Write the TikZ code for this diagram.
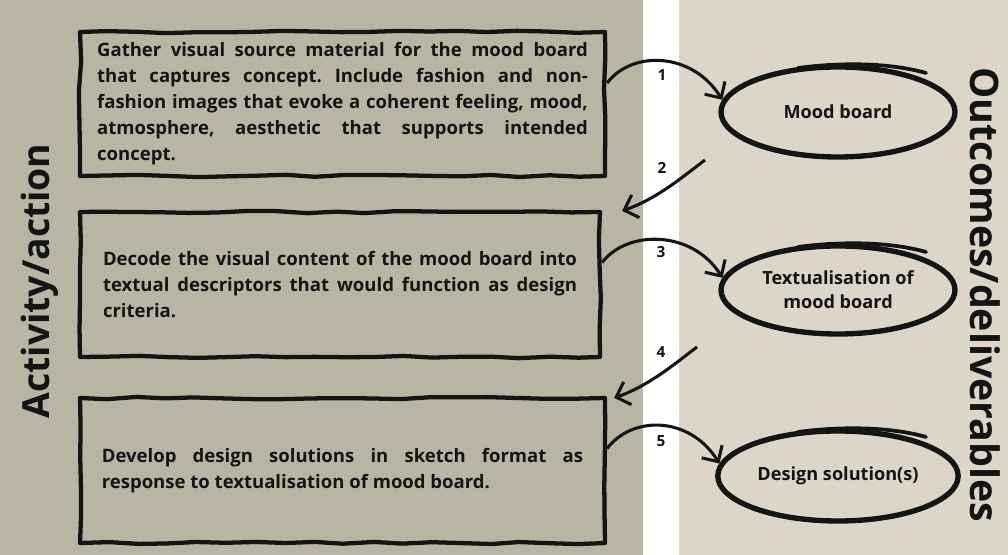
\documentclass[tikz,border=0pt]{standalone}
\usepackage{fontspec}
\setmainfont{Open Sans}
\usepackage{xcolor}
\usetikzlibrary{arrows.meta,decorations.pathmorphing,shapes.geometric,calc}
\frenchspacing

\definecolor{actbg}{HTML}{B9B4A4}
\definecolor{outbg}{HTML}{DDD5C8}
\definecolor{ink}{HTML}{141414}

\tikzset{
  actbox/.style={draw=ink, line width=3.2pt, line join=round, decorate, decoration={random steps,segment length=22pt,amplitude=0.9pt}, align=justify, font=\bfseries\fontsize{13.9}{19.5}\selectfont, text=ink, inner sep=0pt},
  outell/.style={ellipse, draw=ink, line width=4pt, fill=outbg, minimum width=175.5pt, align=center, font=\bfseries\fontsize{13.6}{18}\selectfont, text=ink},
  overstroke/.style={ink, line width=2.8pt, line cap=round},
  flow/.style={ink, line width=2.3pt, -{Straight Barb[length=9pt,width=18pt]}},
  steplabel/.style={font=\bfseries\fontsize{11.5}{13}\selectfont, text=ink, inner sep=0.75pt},
  sidelabel/.style={font=\bfseries\fontsize{28}{30}\selectfont, text=ink, inner sep=0pt}
}

\begin{document}
\begin{tikzpicture}[x=0.75pt,y=0.75pt,yscale=-1,xscale=1]
    \pgfmathsetseed{12}
    \useasboundingbox (0,0) rectangle (1008,555);

    %Shape: Rectangle [panels]
    \fill [white] (0,0) rectangle (1008,555);
    \fill [actbg] (0,0) rectangle (643,555);
    \fill [outbg] (679,0) rectangle (1008,555);

    % Text Node
    \node [sidelabel, rotate=90] (acthead) at (40,281) {Activity/action};
    % Text Node
    \node [sidelabel, rotate=-90, font=\bfseries\fontsize{29.5}{31}\selectfont] (outhead) at (985,295) {Outcomes/deliverables};

    %Shape: Rectangle [activities]
    \node [actbox, minimum width=393.75pt, minimum height=108pt, text width=368pt] (gather) at (342.5,104) {Gather visual source material for the mood board\linebreak that captures concept. Include fashion and non-\linebreak fashion images that evoke a coherent feeling, mood,\linebreak atmosphere, aesthetic that supports intended\linebreak concept.};
    \node [actbox, minimum width=390pt, minimum height=108.75pt, text width=355.5pt] (decode) at (340,284.5) {Decode the visual content of the mood board into\linebreak textual descriptors that would function as design\linebreak criteria.};
    \node [actbox, minimum width=393.75pt, minimum height=108.75pt, text width=361pt] (develop) at (342.5,470.5) {Develop design solutions in sketch format as\linebreak response to textualisation of mood board.};

    %Shape: Ellipse [outcomes]
    \node [outell, minimum height=67.5pt] (moodboard) at (838,112) {Mood board};
    \node [outell, minimum height=66pt] (textual) at (838,290) {Textualisation of\\mood board};
    \node [outell, minimum height=67.5pt] (design) at (838,476) {Design solution(s)};

    %Curve Lines [sketch strokes]
    \draw [overstroke] ($(moodboard.center)+(-40,-44)$) .. controls +(45,-6) and +(-35,-10) .. ($(moodboard.center)+(88,-39)$);
    \draw [overstroke] ($(textual.center)+(-40,-43)$) .. controls +(45,-6) and +(-35,-10) .. ($(textual.center)+(88,-38)$);
    \draw [overstroke] ($(design.center)+(-40,-44)$) .. controls +(45,-6) and +(-35,-10) .. ($(design.center)+(88,-39)$);

    %Curve Lines [steps]
    \draw [flow] ($(gather.east)+(0,-21)$) .. controls +(25,-33) and +(-30,-48) .. (moodboard.174);
    \draw [flow] ($(moodboard.center)+(-133,48)$) .. controls +(-20,15) and +(35,-12) .. ($(decode.north east)+(20,1)$);
    \draw [flow] ($(decode.east)+(0,-22)$) .. controls +(25,-33) and +(-30,-48) .. (textual.174);
    \draw [flow] ($(textual.center)+(-141,57)$) .. controls +(-20,15) and +(35,-12) .. ($(develop.north east)+(7,2)$);
    \draw [flow] ($(develop.east)+(0,-22)$) .. controls +(25,-33) and +(-30,-48) .. (design.174);

    % Text Node
    \node [steplabel] (s1) at (662,75) {1};
    % Text Node
    \node [steplabel] (s2) at (662,168) {2};
    % Text Node
    \node [steplabel] (s3) at (661,252) {3};
    % Text Node
    \node [steplabel] (s4) at (661,352) {4};
    % Text Node
    \node [steplabel] (s5) at (661,441) {5};

\end{tikzpicture}
\end{document}
